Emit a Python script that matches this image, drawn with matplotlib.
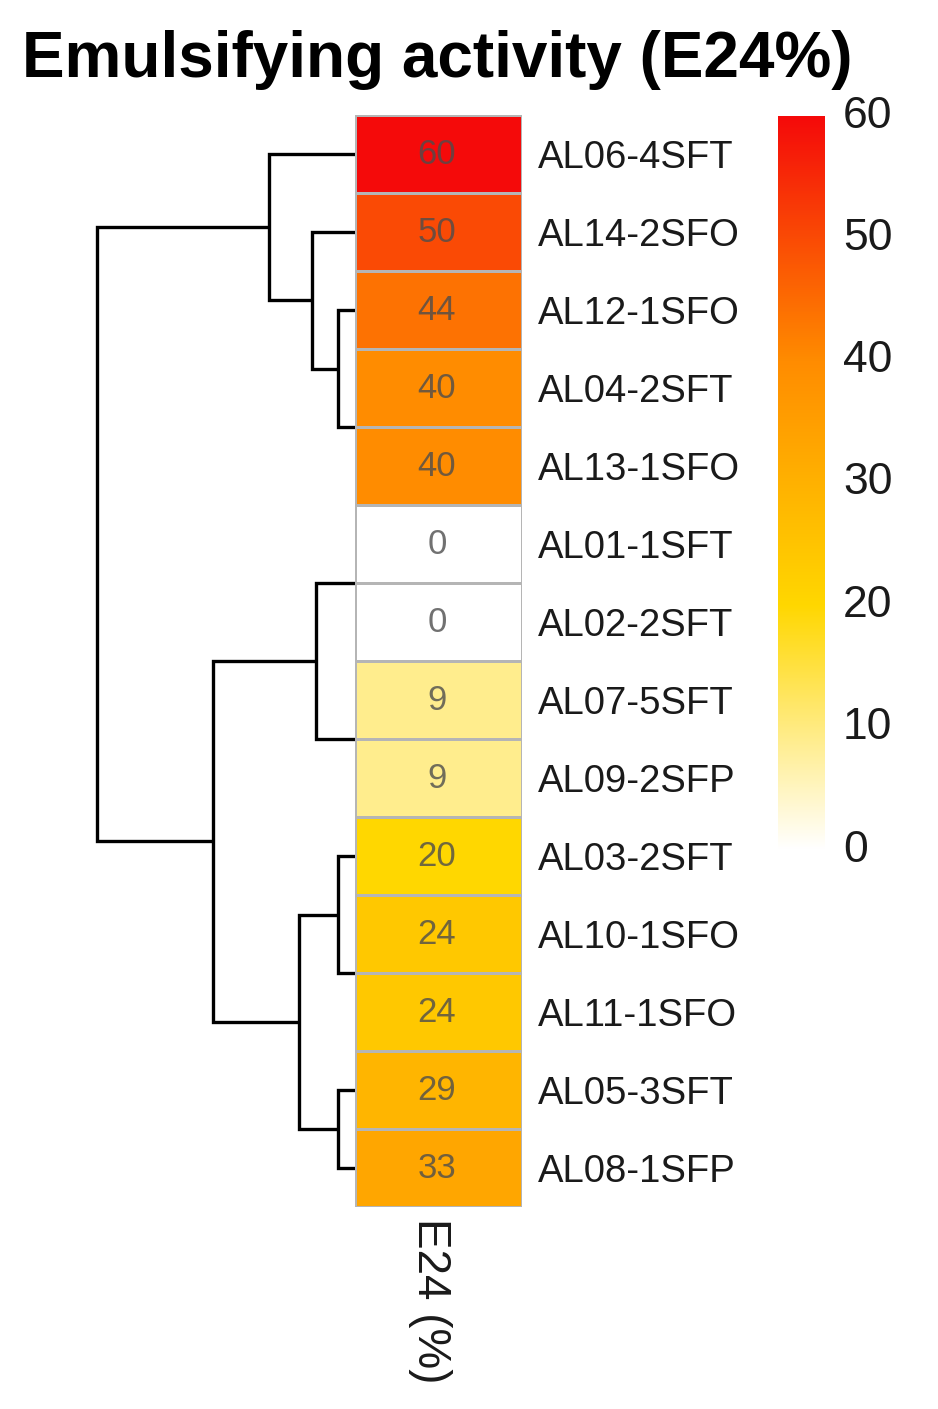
import numpy as np
import matplotlib
matplotlib.use("Agg")
import matplotlib.pyplot as plt
from matplotlib.colors import LinearSegmentedColormap

plt.rcParams['font.family'] = ['Liberation Sans', 'DejaVu Sans']

# ---------------- data ----------------
strains = ["AL06-4SFT", "AL14-2SFO", "AL12-1SFO", "AL04-2SFT", "AL13-1SFO",
           "AL01-1SFT", "AL02-2SFT", "AL07-5SFT", "AL09-2SFP", "AL03-2SFT",
           "AL10-1SFO", "AL11-1SFO", "AL05-3SFT", "AL08-1SFP"]
e24_values = [60, 50, 44, 40, 40, 0, 0, 9, 9, 20, 24, 24, 29, 33]

# hierarchical clustering (complete linkage) merges: left id, right id, height
# leaves are 0..13 in display order; new clusters get ids 14, 15, ...
merge_left = [3, 2, 1, 0, 5, 7, 18, 10, 9, 12, 22, 20, 17]
merge_right = [4, 14, 15, 16, 6, 8, 19, 11, 21, 13, 23, 24, 25]
merge_height = [0, 4, 10, 20, 0, 0, 9, 0, 4, 4, 13, 33, 60]

cbar_ticks = [0, 10, 20, 30, 40, 50, 60]
col_label = "E24 (%)"
title = "Emulsifying activity (E24%)"

# ---------------- figure ----------------
W, H = 938, 1409
fig = plt.figure(figsize=(W / 100, H / 100), dpi=100)

def rect(x0, y0, x1, y1):
    return [x0 / W, 1 - y1 / H, (x1 - x0) / W, (y1 - y0) / H]

cmap = LinearSegmentedColormap.from_list(
    "e24", [(0.0, "#ffffff"), (1 / 3, "#ffd700"), (2 / 3, "#ff8c00"), (1.0, "#f50a0a")])
vmin, vmax = 0, 60
n = len(strains)

# dendrogram (drawn underneath the heatmap)
axd = fig.add_axes(rect(97, 115, 355, 1207))
axd.set_zorder(0)
axd.set_xlim(max(merge_height), 0)
axd.set_ylim(n, 0)
axd.axis("off")
pos = {i: i + 0.5 for i in range(n)}
hgt = {i: 0.0 for i in range(n)}
for k, (a, b, h) in enumerate(zip(merge_left, merge_right, merge_height)):
    cid = n + k
    ya, yb = pos[a], pos[b]
    ha_, hb_ = hgt[a], hgt[b]
    if h > 0:
        axd.plot([ha_, h, h, hb_], [ya, ya, yb, yb], color="black", lw=2.4,
                 solid_joinstyle="miter", solid_capstyle="butt", clip_on=False)
    pos[cid] = (ya + yb) / 2
    hgt[cid] = h

# heatmap
ax = fig.add_axes(rect(355, 115, 522, 1207))
ax.set_zorder(2)
data = np.array(e24_values, dtype=float).reshape(n, 1)
ax.pcolormesh(np.arange(2), np.arange(n + 1), data, cmap=cmap, vmin=vmin, vmax=vmax,
              edgecolors="#b5b5b5", linewidth=1.0)
ax.set_xlim(0, 1)
ax.set_ylim(n, 0)
for i, v in enumerate(e24_values):
    ax.text(0.49, i + 0.5, f"{v}", ha="center", va="center", fontsize=25,
            color="#4d4d4d", alpha=0.8)
ax.set_xticks([])
ax.set_yticks(np.arange(n) + 0.5)
ax.set_yticklabels(strains, fontsize=27.5, color="#1a1a1a")
ax.yaxis.tick_right()
ax.tick_params(axis="y", length=0, pad=11.5)
for s in ax.spines.values():
    s.set_visible(False)

# column label
fig.text(430 / W, 1 - 1218 / H, col_label, rotation=270, ha="center", va="top",
         fontsize=33, color="#1a1a1a")

# colour bar
axc = fig.add_axes(rect(778, 116, 825, 850))
grad = np.linspace(vmin, vmax, 256).reshape(-1, 1)
axc.imshow(grad, aspect="auto", cmap=cmap, vmin=vmin, vmax=vmax, origin="lower",
           extent=[0, 1, vmin, vmax])
axc.set_xlim(0, 1)
axc.set_ylim(vmin, vmax)
axc.axis("off")
for t in cbar_ticks:
    axc.text(1 + 18 / 47, t, f"{t}", ha="left", va="center", fontsize=32,
             color="#1a1a1a", transform=axc.transData, clip_on=False)

# title
fig.text(22 / W, 1 - 77 / H, title, ha="left", va="baseline", fontsize=46,
         fontweight="bold", color="black")

fig.savefig("out.png", dpi=100, facecolor="white")
